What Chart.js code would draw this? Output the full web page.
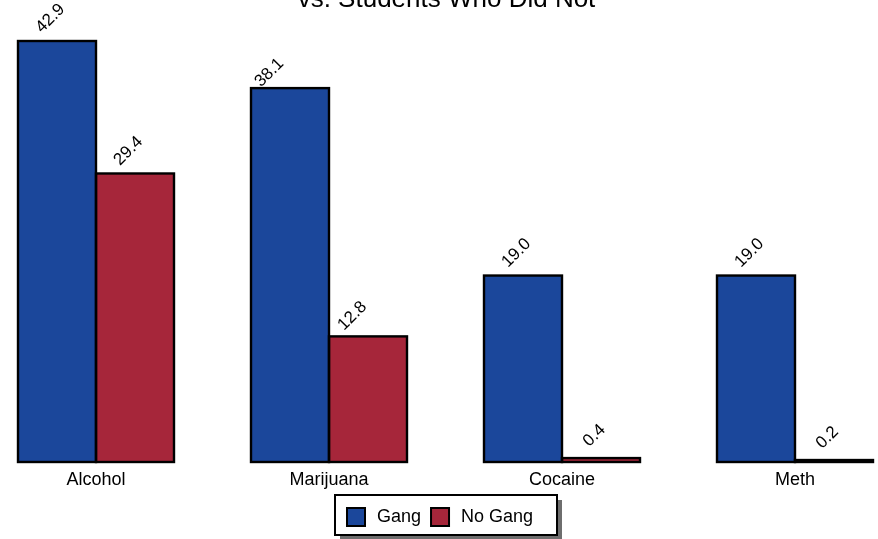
<!DOCTYPE html>
<html>
<head>
<meta charset="utf-8">
<script src="https://cdn.jsdelivr.net/npm/chart.js@4/dist/chart.umd.min.js"></script>
<style>
  html, body { margin: 0; padding: 0; background: #ffffff; }
  #wrap { width: 878px; height: 539px; position: relative; }
</style>
</head>
<body>
<div id="wrap"><canvas id="c" width="878" height="539"></canvas></div>
<script>
const categories = ['Alcohol', 'Marijuana', 'Cocaine', 'Meth'];
const gangValues = [42.9, 38.1, 19.0, 19.0];
const noGangValues = [29.4, 12.8, 0.4, 0.2];
const seriesNames = ['Gang', 'No Gang'];
const titleText = 'vs. Students Who Did Not';

const FONT = "'Liberation Sans', Arial, Helvetica, sans-serif";
const BLUE = '#1B479B';
const RED = '#A6263A';

// small extra nudges of some value labels, as placed in the original picture
const labelNudge = { 'Marijuana': [[-14, 7], [-9, 2]] };

const titlePlugin = {
  id: 'clippedTitle',
  afterDraw(chart) {
    const ctx = chart.ctx;
    ctx.save();
    ctx.font = '26px ' + FONT;
    ctx.fillStyle = '#000';
    ctx.textAlign = 'center';
    ctx.textBaseline = 'alphabetic';
    ctx.fillText(titleText, 446.5, 7);
    ctx.restore();
  }
};

const outlinesAndLabels = {
  id: 'outlinesAndLabels',
  afterDatasetsDraw(chart) {
    const ctx = chart.ctx;
    ctx.save();
    ctx.lineWidth = 2.4;
    ctx.strokeStyle = '#000';
    chart.data.datasets.forEach((ds, di) => {
      const meta = chart.getDatasetMeta(di);
      meta.data.forEach((el) => {
        const p = el.getProps(['x', 'y', 'base', 'width'], true);
        ctx.strokeRect(p.x - p.width / 2, p.y, p.width, p.base - p.y);
      });
    });
    ctx.font = '17px ' + FONT;
    ctx.fillStyle = '#000';
    chart.data.datasets.forEach((ds, di) => {
      const meta = chart.getDatasetMeta(di);
      meta.data.forEach((el, i) => {
        const p = el.getProps(['x', 'y'], true);
        const n = (labelNudge[chart.data.labels[i]] || [])[di] || [0, 0];
        ctx.save();
        ctx.translate(p.x - 6.6 + n[0], p.y - 22.5 + n[1]);
        ctx.rotate(-Math.PI / 4);
        ctx.textAlign = 'center';
        ctx.textBaseline = 'middle';
        ctx.fillText(Number(ds.data[i]).toFixed(1), 0, 0);
        ctx.restore();
      });
    });
    ctx.restore();
  }
};

const boxLegend = {
  id: 'boxLegend',
  afterDraw(chart) {
    const ctx = chart.ctx;
    const cx = 446;
    const fx = cx - 111, fy = 495, fw = 222, fh = 40;
    ctx.save();
    ctx.fillStyle = '#6e6e6e';
    ctx.fillRect(fx + 5, fy + 5, fw, fh);
    ctx.fillStyle = '#fff';
    ctx.fillRect(fx, fy, fw, fh);
    ctx.lineWidth = 2;
    ctx.strokeStyle = '#000';
    ctx.strokeRect(fx, fy, fw, fh);
    ctx.font = '18px ' + FONT;
    ctx.textBaseline = 'middle';
    ctx.textAlign = 'left';
    let x = fx + 12;
    chart.data.datasets.forEach((ds) => {
      ctx.fillStyle = ds.backgroundColor;
      ctx.fillRect(x, 508, 18, 18);
      ctx.lineWidth = 2;
      ctx.strokeStyle = '#000';
      ctx.strokeRect(x, 508, 18, 18);
      x += 19 + 11;
      ctx.fillStyle = '#000';
      ctx.fillText(ds.label, x, 517.5);
      x += ctx.measureText(ds.label).width + 10;
    });
    ctx.restore();
  }
};

new Chart(document.getElementById('c'), {
  type: 'bar',
  data: {
    labels: categories,
    datasets: [
      {
        label: seriesNames[0],
        data: gangValues,
        backgroundColor: BLUE,
        borderWidth: 0,
        barThickness: 78,
        clip: false
      },
      {
        label: seriesNames[1],
        data: noGangValues,
        backgroundColor: RED,
        borderWidth: 0,
        barThickness: 78,
        clip: false
      }
    ]
  },
  options: {
    responsive: false,
    animation: false,
    layout: { padding: { top: 41, left: 96, right: 83, bottom: 47 } },
    plugins: {
      legend: { display: false },
      title: { display: false },
      tooltip: { enabled: false }
    },
    scales: {
      x: {
        type: 'category',
        offset: false,
        grid: { display: false, drawTicks: false },
        border: { display: false },
        ticks: {
          font: { size: 18, family: FONT },
          color: '#000',
          padding: 7,
          maxRotation: 0,
          autoSkip: false
        },
        afterFit(scale) { scale.height = 30; }
      },
      y: {
        display: false,
        min: 0,
        max: 42.9
      }
    }
  },
  plugins: [titlePlugin, outlinesAndLabels, boxLegend]
});
</script>
</body>
</html>
